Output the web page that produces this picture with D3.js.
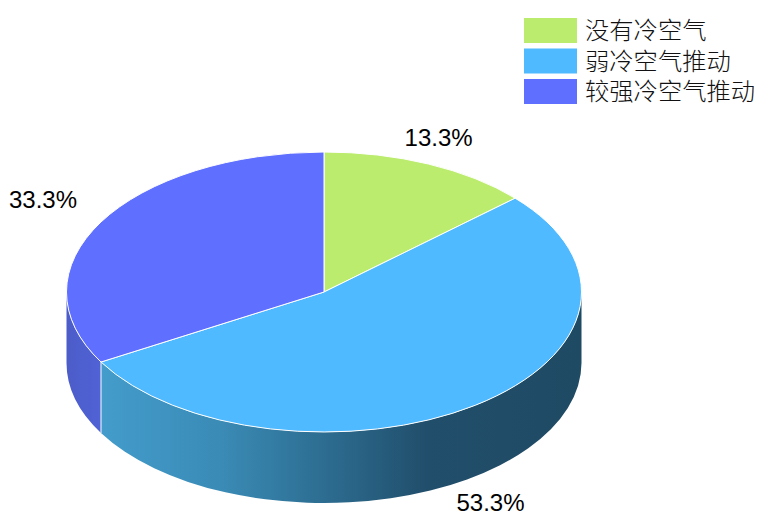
<!DOCTYPE html>
<html>
<head>
<meta charset="utf-8">
<script src="https://cdn.jsdelivr.net/npm/d3@7"></script>
<style>
    html, body { margin: 0; padding: 0; background: #fff; }
    svg { display: block; }
</style>
</head>
<body>
<svg id="chart" width="768" height="527"></svg>
<script>
const categories = ['没有冷空气', '弱冷空气推动', '较强冷空气推动'];
const values = [13.3, 53.3, 33.3];
const valueLabels = ['13.3%', '53.3%', '33.3%'];

const topColors = ['#bbec6e', '#4fbaff', '#5f6fff'];
const sideColors = ['#7a9a48', 'url(#blueSide)', 'url(#purpleSide)'];

const width = 768, height = 527;
const cx = 324, cy = 292, rx = 257.5, ry = 140, depth = 71;
// label nudges from the rim point at each slice's middle angle
const labelNudge = [[10, -24], [15, 28], [-58, -20]];

const svg = d3.select('#chart');

const defs = svg.append('defs');
function addGradient(id, stops) {
    const g = defs.append('linearGradient')
        .attr('id', id)
        .attr('gradientUnits', 'userSpaceOnUse')
        .attr('x1', cx - rx).attr('x2', cx + rx)
        .attr('y1', 0).attr('y2', 0);
    stops.forEach(s => g.append('stop').attr('offset', s[0]).attr('stop-color', s[1]));
}
addGradient('blueSide', [[0, '#4aa4d6'], [0.07, '#439ccb'], [0.3, '#3a8bb6'], [0.5, '#2d6d91'], [0.7, '#214e6b'], [1, '#1f4a64']]);
addGradient('purpleSide', [[0, '#4c5dc9'], [0.07, '#5062d6'], [1, '#5062d6']]);

const pie = d3.pie().sort(null).value(d => d);
const arcs = pie(values);

const px = a => cx + rx * Math.sin(a);
const py = a => cy - ry * Math.cos(a);

// outer wall of a slice, only the part facing the viewer (90deg to 270deg)
function sidePath(a0, a1) {
    const s = Math.max(a0, Math.PI / 2), e = Math.min(a1, Math.PI * 3 / 2);
    if (e <= s) return null;
    return `M${px(s)},${py(s)} A${rx},${ry} 0 0 1 ${px(e)},${py(e)}`
        + ` L${px(e)},${py(e) + depth} A${rx},${ry} 0 0 0 ${px(s)},${py(s) + depth} Z`;
}

const sides = svg.append('g');
arcs.forEach((d, i) => {
    const p = sidePath(d.startAngle, d.endAngle);
    if (p) sides.append('path').attr('d', p).attr('fill', sideColors[i]);
});

// white edge where the blue and purple walls meet
const seam = arcs[1].endAngle;
sides.append('line')
    .attr('x1', px(seam)).attr('x2', px(seam))
    .attr('y1', py(seam)).attr('y2', py(seam) + depth)
    .attr('stroke', '#fff').attr('stroke-width', 1);

const arc = d3.arc().innerRadius(0).outerRadius(rx);
svg.append('g')
    .attr('transform', `translate(${cx},${cy}) scale(1,${ry / rx})`)
    .selectAll('path')
    .data(arcs)
    .enter().append('path')
    .attr('d', arc)
    .attr('fill', (d, i) => topColors[i])
    .attr('stroke', '#fff')
    .attr('stroke-width', 1)
    .attr('vector-effect', 'non-scaling-stroke')
    .attr('stroke-linejoin', 'round');

svg.append('g').selectAll('text')
    .data(arcs)
    .enter().append('text')
    .attr('x', (d, i) => px((d.startAngle + d.endAngle) / 2) + labelNudge[i][0])
    .attr('y', (d, i) => {
        const mid = (d.startAngle + d.endAngle) / 2;
        const drop = Math.cos(mid) < 0 ? depth : 0;
        return py(mid) + drop + labelNudge[i][1];
    })
    .attr('text-anchor', 'middle')
    .attr('dominant-baseline', 'middle')
    .attr('font-family', '"Liberation Sans", Arial, sans-serif')
    .attr('font-size', 24)
    .attr('fill', '#000')
    .text((d, i) => valueLabels[i]);

const legendY = d3.scaleBand().domain(categories).range([18, 104]).paddingInner(0.18);
const legend = svg.append('g').selectAll('g')
    .data(categories)
    .enter().append('g');
legend.append('rect')
    .attr('x', 524).attr('y', d => legendY(d))
    .attr('width', 53).attr('height', legendY.bandwidth())
    .attr('fill', (d, i) => topColors[i]);
legend.append('text')
    .attr('x', 585).attr('y', d => legendY(d) + legendY.bandwidth() / 2 + 8.5)
    .attr('font-family', '"Noto Sans CJK SC", sans-serif')
    .attr('font-size', 24.3)
    .attr('font-weight', 300)
    .attr('fill', '#111')
    .text(d => d);
</script>
</body>
</html>
